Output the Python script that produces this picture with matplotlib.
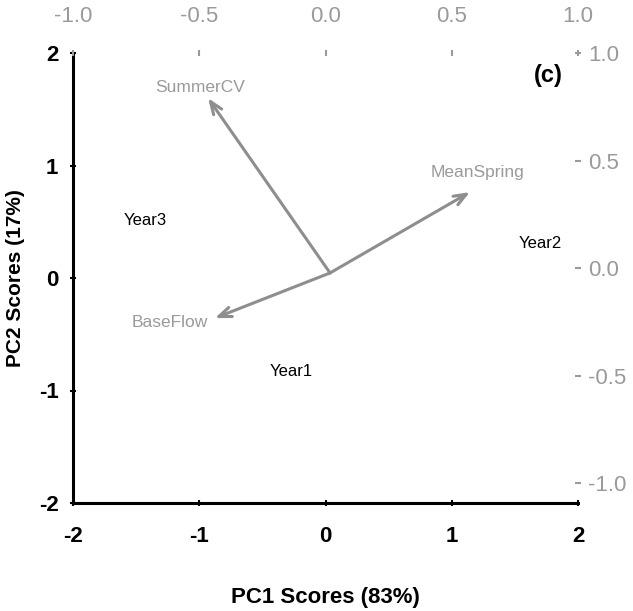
import matplotlib.pyplot as plt

# PCA biplot: year scores (bottom/left axes) and variable loadings (top/right axes)
years = ['Year1', 'Year2', 'Year3']
pc1_scores = [-0.27, 1.70, -1.43]
pc2_scores = [-0.83, 0.31, 0.51]

variables = ['SummerCV', 'MeanSpring', 'BaseFlow']
load_pc1 = [-0.465, 0.572, -0.438]
load_pc2 = [0.79, 0.353, -0.233]
origin = (0.018, -0.023)

score_ticks = [-2, -1, 0, 1, 2]
load_ticks = [-1.0, -0.5, 0.0, 0.5, 1.0]

plt.rcParams['font.family'] = ['Liberation Sans', 'DejaVu Sans']
plt.rcParams['axes.unicode_minus'] = False

grey = '#9a9a9a'
arrow_grey = '#8e8e8e'

fig = plt.figure(figsize=(6.33, 6.11), dpi=100)
pos = [73 / 633, 1 - 503 / 611, 505 / 633, 450 / 611]
ax = fig.add_axes(pos)
ax.set_xlim(-2, 2)
ax.set_ylim(-2, 2)
ax.set_xticks(score_ticks)
ax.set_yticks(score_ticks)
ax.tick_params(direction='inout', length=5, width=1.5, labelsize=16)
ax.tick_params(axis='x', pad=14)
ax.tick_params(axis='y', pad=8)
for lab in ax.get_xticklabels() + ax.get_yticklabels():
    lab.set_fontweight('bold')
for s in ['left', 'bottom']:
    ax.spines[s].set_linewidth(2.2)
for s in ['top', 'right']:
    ax.spines[s].set_visible(False)

ax.set_xlabel('PC1 Scores (83%)', fontsize=16, fontweight='bold', labelpad=29)
ax.set_ylabel('PC2 Scores (17%)', fontsize=15, fontweight='bold', labelpad=10)

for name, x, y in zip(years, pc1_scores, pc2_scores):
    ax.text(x, y, name, ha='center', va='center', fontsize=12)

ax.text(0.97, 0.975, '(c)', transform=ax.transAxes, ha='right', va='top',
        fontsize=17, fontweight='bold')

# loadings on their own scale
ax2 = fig.add_axes(pos, frameon=False)
ax2.set_xlim(-1, 1)
ax2.set_ylim(-1.093, 1.0)
ax2.xaxis.tick_top()
ax2.yaxis.tick_right()
ax2.set_xticks(load_ticks)
ax2.set_yticks(load_ticks)
ax2.set_xticklabels([f'{v:.1f}' for v in load_ticks])
ax2.set_yticklabels([f'{v:.1f}' for v in load_ticks])
ax2.tick_params(colors=grey, labelcolor=grey, direction='inout', length=5,
                width=1.5, labelsize=16)
ax2.tick_params(axis='x', pad=16)
ax2.tick_params(axis='y', pad=5)
for s in ['top', 'right']:
    ax2.spines[s].set_visible(True)
    ax2.spines[s].set_color(grey)
    ax2.spines[s].set_linewidth(2.2)
ax2.patch.set_visible(False)

label_offsets = {'SummerCV': (-0.03, 0.05), 'MeanSpring': (0.03, 0.09),
                 'BaseFlow': (-0.18, -0.02)}
for name, x, y in zip(variables, load_pc1, load_pc2):
    ax2.annotate('', xy=(x, y), xytext=origin,
                 arrowprops=dict(arrowstyle='->,head_length=0.9,head_width=0.35',
                                 color=arrow_grey, lw=2.2, shrinkA=0, shrinkB=0))
    dx, dy = label_offsets[name]
    ax2.text(x + dx, y + dy, name, ha='center', va='center', fontsize=12.5,
             color=grey)

fig.savefig('out.png', dpi=100)
